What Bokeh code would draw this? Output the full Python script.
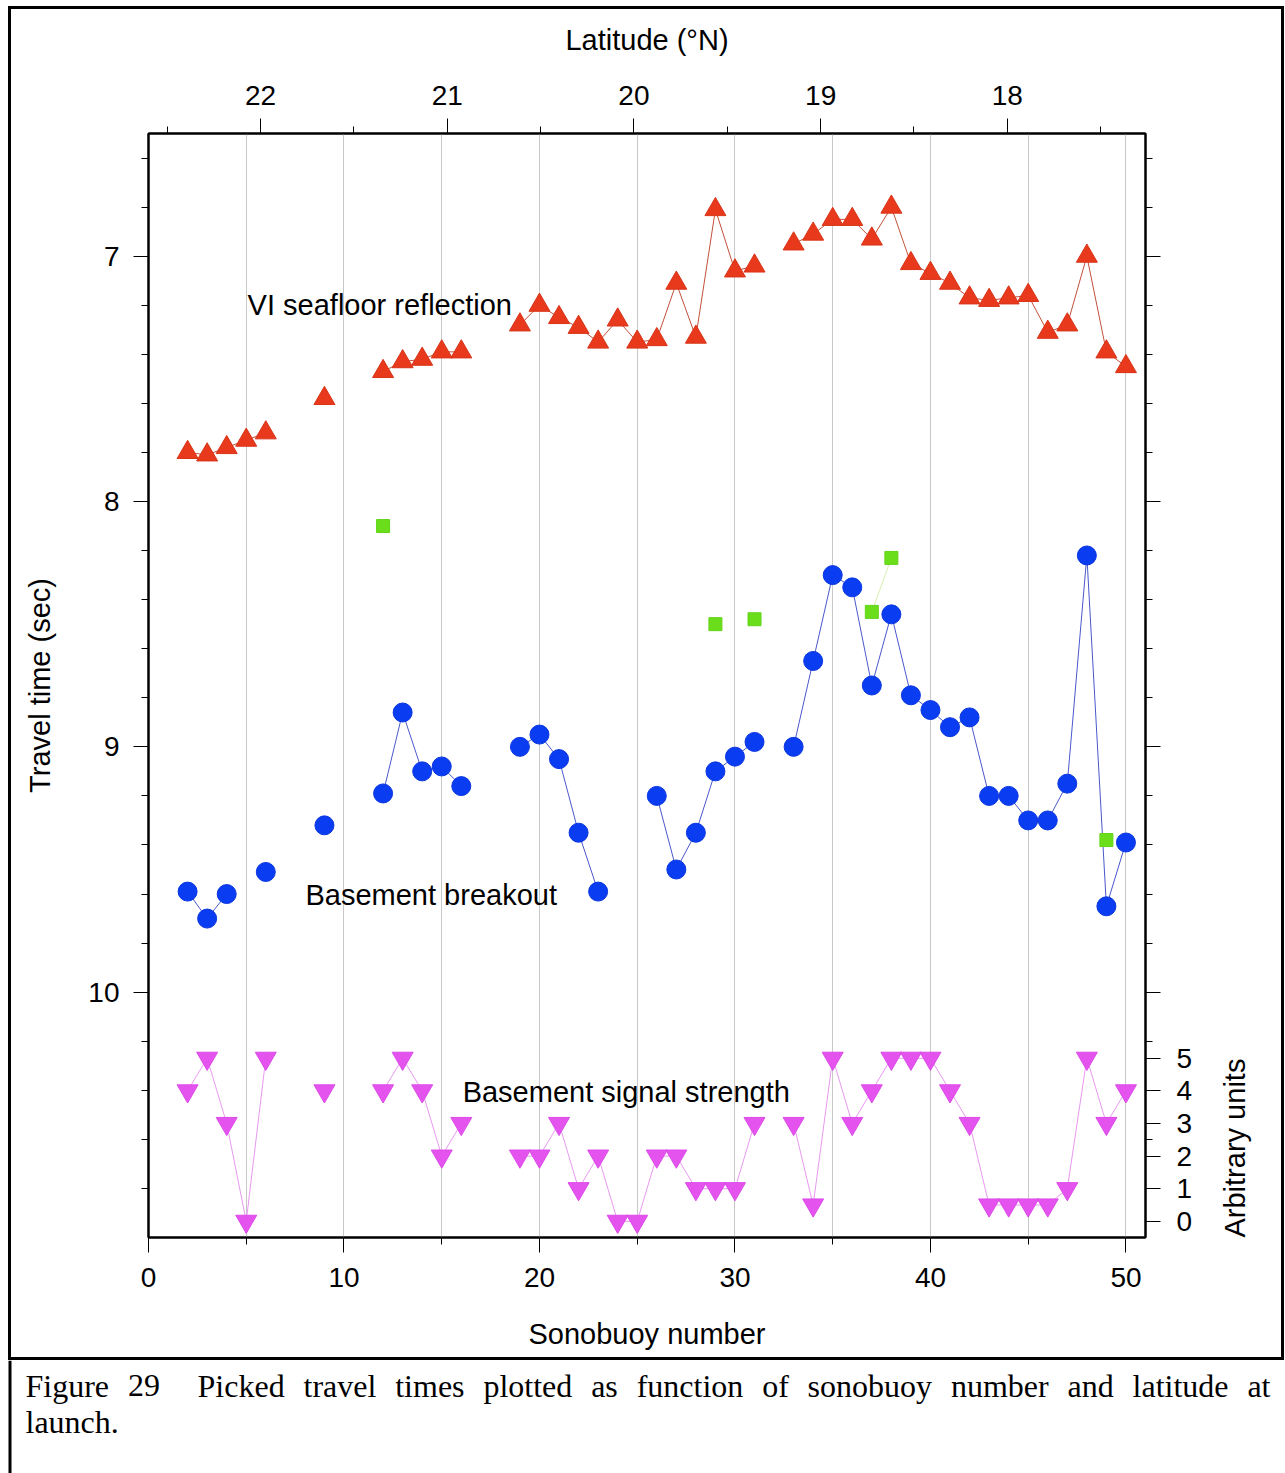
import math
import numpy as np
from bokeh.plotting import figure
from bokeh.models import Range1d, LinearAxis, FixedTicker, Label
from bokeh.core.properties import value
from bokeh.embed import file_html
from bokeh.resources import INLINE

# ---------------- data ----------------
# VI seafloor reflection (travel time, sec)
sf_buoy = [2, 3, 4, 5, 6, 9, 12, 13, 14, 15, 16, 19, 20, 21, 22, 23, 24, 25, 26, 27, 28, 29, 30, 31,
           33, 34, 35, 36, 37, 38, 39, 40, 41, 42, 43, 44, 45, 46, 47, 48, 49, 50]
sf_time = [7.80, 7.81, 7.78, 7.75, 7.72, 7.58, 7.47, 7.43, 7.42, 7.39, 7.39, 7.28, 7.20, 7.25, 7.29,
           7.35, 7.26, 7.35, 7.34, 7.11, 7.33, 6.81, 7.06, 7.04,
           6.95, 6.91, 6.85, 6.85, 6.93, 6.80, 7.03, 7.07, 7.11, 7.17, 7.18, 7.17, 7.16, 7.31, 7.28,
           7.00, 7.39, 7.45]

# Basement breakout (travel time, sec)
bb_buoy = [2, 3, 4, 6, 9, 12, 13, 14, 15, 16, 19, 20, 21, 22, 23, 26, 27, 28, 29, 30, 31,
           33, 34, 35, 36, 37, 38, 39, 40, 41, 42, 43, 44, 45, 46, 47, 48, 49, 50]
bb_time = [9.59, 9.70, 9.60, 9.51, 9.32, 9.19, 8.86, 9.10, 9.08, 9.16, 9.00, 8.95, 9.05, 9.35, 9.59,
           9.20, 9.50, 9.35, 9.10, 9.04, 8.98,
           9.00, 8.65, 8.30, 8.35, 8.75, 8.46, 8.79, 8.85, 8.92, 8.88, 9.20, 9.20, 9.30, 9.30, 9.15,
           8.22, 9.65, 9.39]

# Secondary picks (green squares)
gr_buoy = [12, 29, 31, 37, 38, 49]
gr_time = [8.10, 8.50, 8.48, 8.45, 8.23, 9.38]

# Basement signal strength (arbitrary units)
ss_buoy = sf_buoy
ss_val = [4, 5, 3, 0, 5, 4, 4, 5, 4, 2, 3, 2, 2, 3, 1, 2, 0, 0, 2, 2, 1, 1, 1, 3,
          3, 0.5, 5, 3, 4, 5, 5, 5, 4, 3, 0.5, 0.5, 0.5, 0.5, 1, 5, 3, 4]

x_major = [0, 10, 20, 30, 40, 50]
x_minor = [5, 15, 25, 35, 45]
x_grid = [5, 10, 15, 20, 25, 30, 35, 40, 45, 50]
t_major = [7, 8, 9, 10]
t_minor = [6.6, 6.8, 7.2, 7.4, 7.6, 7.8, 8.2, 8.4, 8.6, 8.8, 9.2, 9.4, 9.6, 9.8, 10.2, 10.4, 10.6, 10.8]
lat_major = [18, 19, 20, 21, 22]
lat_minor = [17.5, 18.5, 19.5, 20.5, 21.5, 22.5]
arb_major = [0, 1, 2, 3, 4, 5]

caption_line1 = ["Figure", "29", "", "Picked", "travel", "times", "plotted", "as", "function", "of",
                 "sonobuoy", "number", "and", "latitude", "at"]
caption_line2 = "launch."

# axis geometry
X_START, X_END = 0, 51
T_BOTTOM, T_TOP = 11.0, 6.5
LAT_LEFT, LAT_RIGHT = 22.60, 17.26
ARB_ZERO_T = 10.934   # travel time where arbitrary unit = 0
ARB_UNIT_T = 0.1329   # seconds per arbitrary unit


def t_to_arb(t):
    return round((ARB_ZERO_T - t) / ARB_UNIT_T, 6)


def with_gaps(xs, ys):
    ox, oy = [], []
    for i, (x, y) in enumerate(zip(xs, ys)):
        if i > 0 and x - xs[i - 1] > 1:
            ox.append(np.nan)
            oy.append(np.nan)
        ox.append(x)
        oy.append(y)
    return ox, oy


SANS = "Liberation Sans"
SERIF = "Liberation Serif"
BORDER = 3

p = figure(frame_width=997, frame_height=1104,
           x_range=Range1d(X_START, X_END), y_range=Range1d(T_BOTTOM, T_TOP),
           output_backend="svg", toolbar_location=None,
           min_border_left=137, min_border_right=136, min_border_top=124, min_border_bottom=120,
           x_axis_location="below", y_axis_location="left")
p.background_fill_color = "white"
p.border_fill_color = "white"
p.outline_line_color = "black"
p.outline_line_width = 2
p.margin = (6, 0, 0, 8)
p.styles = {"border": f"{BORDER}px solid black"}

p.extra_x_ranges = {"lat": Range1d(LAT_LEFT, LAT_RIGHT)}
p.extra_y_ranges = {"arb": Range1d(t_to_arb(T_BOTTOM), t_to_arb(T_TOP))}


def style_axis(ax, label_standoff):
    ax.axis_line_color = "black"
    ax.axis_line_width = 2
    ax.major_tick_in = 0
    ax.major_tick_out = 15
    ax.minor_tick_in = 0
    ax.minor_tick_out = 7
    ax.major_tick_line_color = "black"
    ax.minor_tick_line_color = "black"
    ax.major_tick_line_width = 1
    ax.minor_tick_line_width = 1
    ax.major_label_text_font = SANS
    ax.major_label_text_font_size = "28px"
    ax.major_label_text_color = "black"
    ax.major_label_standoff = 14
    ax.axis_label_text_font = SANS
    ax.axis_label_text_font_size = "29px"
    ax.axis_label_text_font_style = "normal"
    ax.axis_label_text_color = "black"
    ax.axis_label_standoff = label_standoff


# bottom axis
xb = p.xaxis[0]
xb.ticker = FixedTicker(ticks=x_major, minor_ticks=x_minor)
xb.axis_label = "Sonobuoy number"
style_axis(xb, 28)
xb.major_label_standoff = 15

# left axis
yl = p.yaxis[0]
yl.ticker = FixedTicker(ticks=t_major, minor_ticks=t_minor)
yl.axis_label = "Travel time (sec)"
style_axis(yl, 29)

# top latitude axis
xt = LinearAxis(x_range_name="lat", axis_label="Latitude (°N)",
                ticker=FixedTicker(ticks=lat_major, minor_ticks=lat_minor))
style_axis(xt, 27)
p.add_layout(xt, "above")

# right axis: arbitrary units + travel time ticks
right_time_major = [t_to_arb(t) for t in t_major]
right_time_minor = [t_to_arb(t) for t in t_minor]
yr = LinearAxis(y_range_name="arb", axis_label="Arbitrary units",
                ticker=FixedTicker(ticks=arb_major + right_time_major, minor_ticks=right_time_minor))
yr.major_label_overrides = {v: "" for v in right_time_major}
style_axis(yr, 40)
yr.major_label_standoff = 16
props = yr.properties()
if "axis_label_orientation" in props:
    yr.axis_label_orientation = math.pi / 2
if "axis_label_align" in props:
    yr.axis_label_align = "start"
p.add_layout(yr, "right")

# grids
p.xgrid.ticker = FixedTicker(ticks=x_grid)
p.xgrid.grid_line_color = "#c8c8c8"
p.xgrid.grid_line_width = 1
p.ygrid.visible = False

# ---- series ----
lx, ly = with_gaps(sf_buoy, sf_time)
p.line(lx, ly, line_color="#c2503a", line_width=1)
lx, ly = with_gaps(bb_buoy, bb_time)
p.line(lx, ly, line_color="#4a58cc", line_width=1)
lx, ly = with_gaps(gr_buoy, gr_time)
p.line(lx, ly, line_color="#d8eeb0", line_width=1)
lx, ly = with_gaps(ss_buoy, ss_val)
p.line(lx, ly, line_color="#e898f0", line_width=1, y_range_name="arb")

p.scatter(sf_buoy, sf_time, marker="triangle", size=21, fill_color="#e8391c", line_color="#d83418")
p.scatter(bb_buoy, bb_time, marker="circle", size=19, fill_color="#0a3cf2", line_color="#0a36e0")
p.scatter(gr_buoy, gr_time, marker="square", size=13, fill_color="#6ade1a", line_color="#62d418")
p.scatter(ss_buoy, ss_val, marker="inverted_triangle", size=21, fill_color="#e553ef",
          line_color="#dc4ae8", y_range_name="arb")

# ---- series labels ----
lbl_kw = dict(text_font=SANS, text_font_size="29px", text_color="black",
              text_baseline="middle", text_align="left")
p.add_layout(Label(x=5.07, y=7.20, text="VI seafloor reflection", **lbl_kw))
p.add_layout(Label(x=8.03, y=9.605, text="Basement breakout", **lbl_kw))
p.add_layout(Label(x=16.07, y=3.96, y_range_name="arb", text="Basement signal strength", **lbl_kw))

# ---- caption panel (justified first line using Times-compatible metrics) ----
CAP_W, CAP_H = 1285, 113
CAP_FS = 32
TIMES_W = {"F": 556, "P": 556, "a": 444, "b": 500, "c": 444, "d": 500, "e": 444, "f": 333,
           "g": 500, "h": 500, "i": 278, "k": 500, "l": 278, "m": 778, "n": 500, "o": 500,
           "p": 500, "r": 333, "s": 389, "t": 278, "u": 500, "v": 500, "y": 500,
           "2": 500, "9": 500, ".": 250, " ": 250}


def word_w(w):
    return sum(TIMES_W.get(ch, 500) for ch in w) * CAP_FS / 1000.0


LEFT, RIGHT = 25, 1270
widths = [word_w(w) for w in caption_line1]
n_gaps = len(caption_line1) - 1
free = (RIGHT - LEFT) - sum(widths)
gap = free / n_gaps
xs, cur = [], LEFT
for w, wd in zip(caption_line1, widths):
    xs.append(cur)
    cur += wd + gap
words = [w for w in caption_line1 if w]
wx = [x for w, x in zip(caption_line1, xs) if w]

cap = figure(frame_width=CAP_W, frame_height=CAP_H, x_range=Range1d(0, CAP_W), y_range=Range1d(CAP_H, 0),
             output_backend="svg", toolbar_location=None, x_axis_location=None, y_axis_location=None,
             min_border=0)
cap.outline_line_color = None
cap.xgrid.visible = False
cap.ygrid.visible = False
cap.background_fill_color = "white"
cap.border_fill_color = "white"
cap.segment(x0=[9.5], y0=[0], x1=[9.5], y1=[CAP_H], line_color="black", line_width=BORDER)
cap.text(x=wx, y=[25] * len(words), text=words, text_font=value(SERIF),
         text_font_size=f"{CAP_FS}px", text_color="black", text_baseline="middle", text_align="left")
cap.text(x=[LEFT], y=[61], text=[caption_line2], text_font=value(SERIF),
         text_font_size=f"{CAP_FS}px", text_color="black", text_baseline="middle", text_align="left")

open("out.html", "w").write(file_html([p, cap], INLINE))
